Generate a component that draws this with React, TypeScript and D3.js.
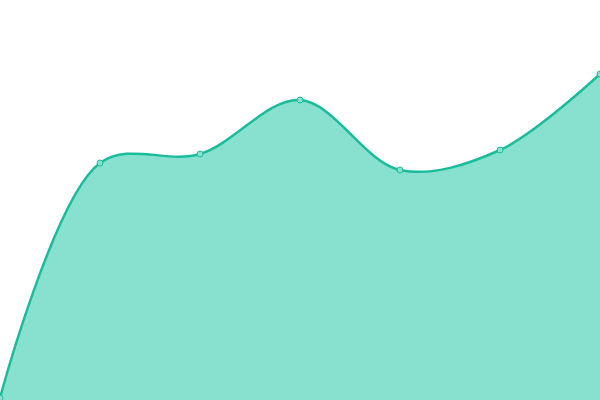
import React, { useEffect, useRef } from 'react';
import * as d3 from 'd3';

const xs = [0, 1, 2, 3, 4, 5, 6];
const values = [2, 237, 246, 300, 230, 250, 326];

const width = 600;
const height = 400;

export default () => {
  const svgRef = useRef<SVGSVGElement>(null);

  useEffect(() => {
    document.body.style.margin = '0';
    if (!svgRef.current) return;
    const svg = d3.select(svgRef.current);
    svg.selectAll('*').remove();

    const x = d3.scaleLinear().domain([0, 6]).range([0, width]);
    const y = d3.scaleLinear().domain([0, 400]).range([height, 0]);
    const pts: [number, number][] = xs.map((d, i) => [d, values[i]]);

    const area = d3.area<[number, number]>()
      .curve(d3.curveCatmullRom.alpha(0.5))
      .x(d => x(d[0]))
      .y0(y(0))
      .y1(d => y(d[1]));
    const line = d3.line<[number, number]>()
      .curve(d3.curveCatmullRom.alpha(0.5))
      .x(d => x(d[0]))
      .y(d => y(d[1]));

    svg.append('path').attr('d', area(pts) as string).attr('fill', '#88e0cf');
    svg.append('path').attr('d', line(pts) as string)
      .attr('fill', 'none').attr('stroke', '#1bbc9b').attr('stroke-width', 2.5);

    svg.selectAll('circle.pt')
      .data(pts)
      .enter()
      .append('circle')
      .attr('class', 'pt')
      .attr('cx', d => x(d[0]))
      .attr('cy', d => y(d[1]))
      .attr('r', 3)
      .attr('fill', '#88e0cf')
      .attr('stroke', '#1bbc9b')
      .attr('stroke-width', 1);
  }, []);

  return (
    <div style={{ width, height }}>
      <svg ref={svgRef} width={width} height={height} style={{ display: 'block' }} />
    </div>
  );
};
